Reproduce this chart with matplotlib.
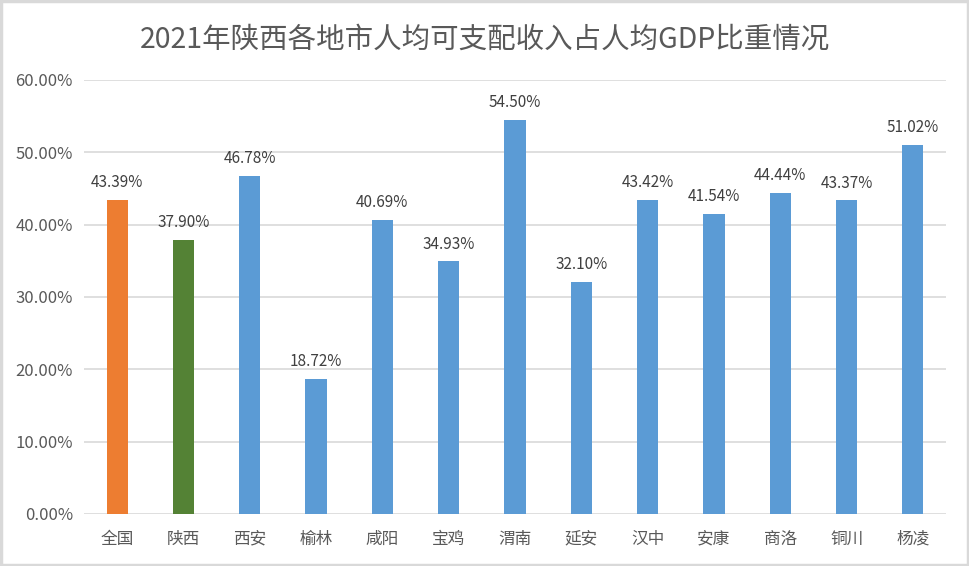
import matplotlib
matplotlib.use('Agg')
import matplotlib.pyplot as plt
from matplotlib.patches import Rectangle
from matplotlib.ticker import FuncFormatter

plt.rcParams['font.family'] = ['Noto Sans CJK SC', 'DejaVu Sans']

regions = ['全国', '陕西', '西安', '榆林', '咸阳', '宝鸡', '渭南', '延安', '汉中', '安康', '商洛', '铜川', '杨凌']
shares = [43.39, 37.90, 46.78, 18.72, 40.69, 34.93, 54.50, 32.10, 43.42, 41.54, 44.44, 43.37, 51.02]
colors = ['#ED7D31', '#548235'] + ['#5B9BD5'] * 11

fig = plt.figure(figsize=(9.7, 5.66), dpi=100)
ax = fig.add_axes([0.0866, 0.0919, 0.8887, 0.7668])

x = range(len(regions))
ax.bar(x, shares, width=0.32, color=colors, zorder=3)
for i, v in zip(x, shares):
    ax.text(i, v + 1.2, f'{v:.2f}%', ha='center', va='bottom', fontsize=11, color='#404040')

ax.set_xlim(-0.5, len(regions) - 0.5)
ax.set_ylim(0, 60)
ax.set_yticks(range(0, 61, 10))
ax.yaxis.set_major_formatter(FuncFormatter(lambda v, p: f'{v:.2f}%'))
ax.set_xticks(list(x))
ax.set_xticklabels(regions)
ax.tick_params(length=0, labelsize=12, colors='#595959')
ax.tick_params(axis='x', pad=12)
ax.tick_params(axis='y', pad=8)
ax.grid(axis='y', color='#D9D9D9', linewidth=1.2, zorder=0)
for s in ax.spines.values():
    s.set_visible(False)

fig.text(0.5, 0.93, '2021年陕西各地市人均可支配收入占人均GDP比重情况', ha='center', va='center',
         fontsize=20.5, color='#595959')

fig.patches.append(Rectangle((0.001, 0.002), 0.997, 0.996, transform=fig.transFigure,
                             fill=False, edgecolor='#D9D9D9', linewidth=2.5))

fig.savefig('out.png', dpi=100)
